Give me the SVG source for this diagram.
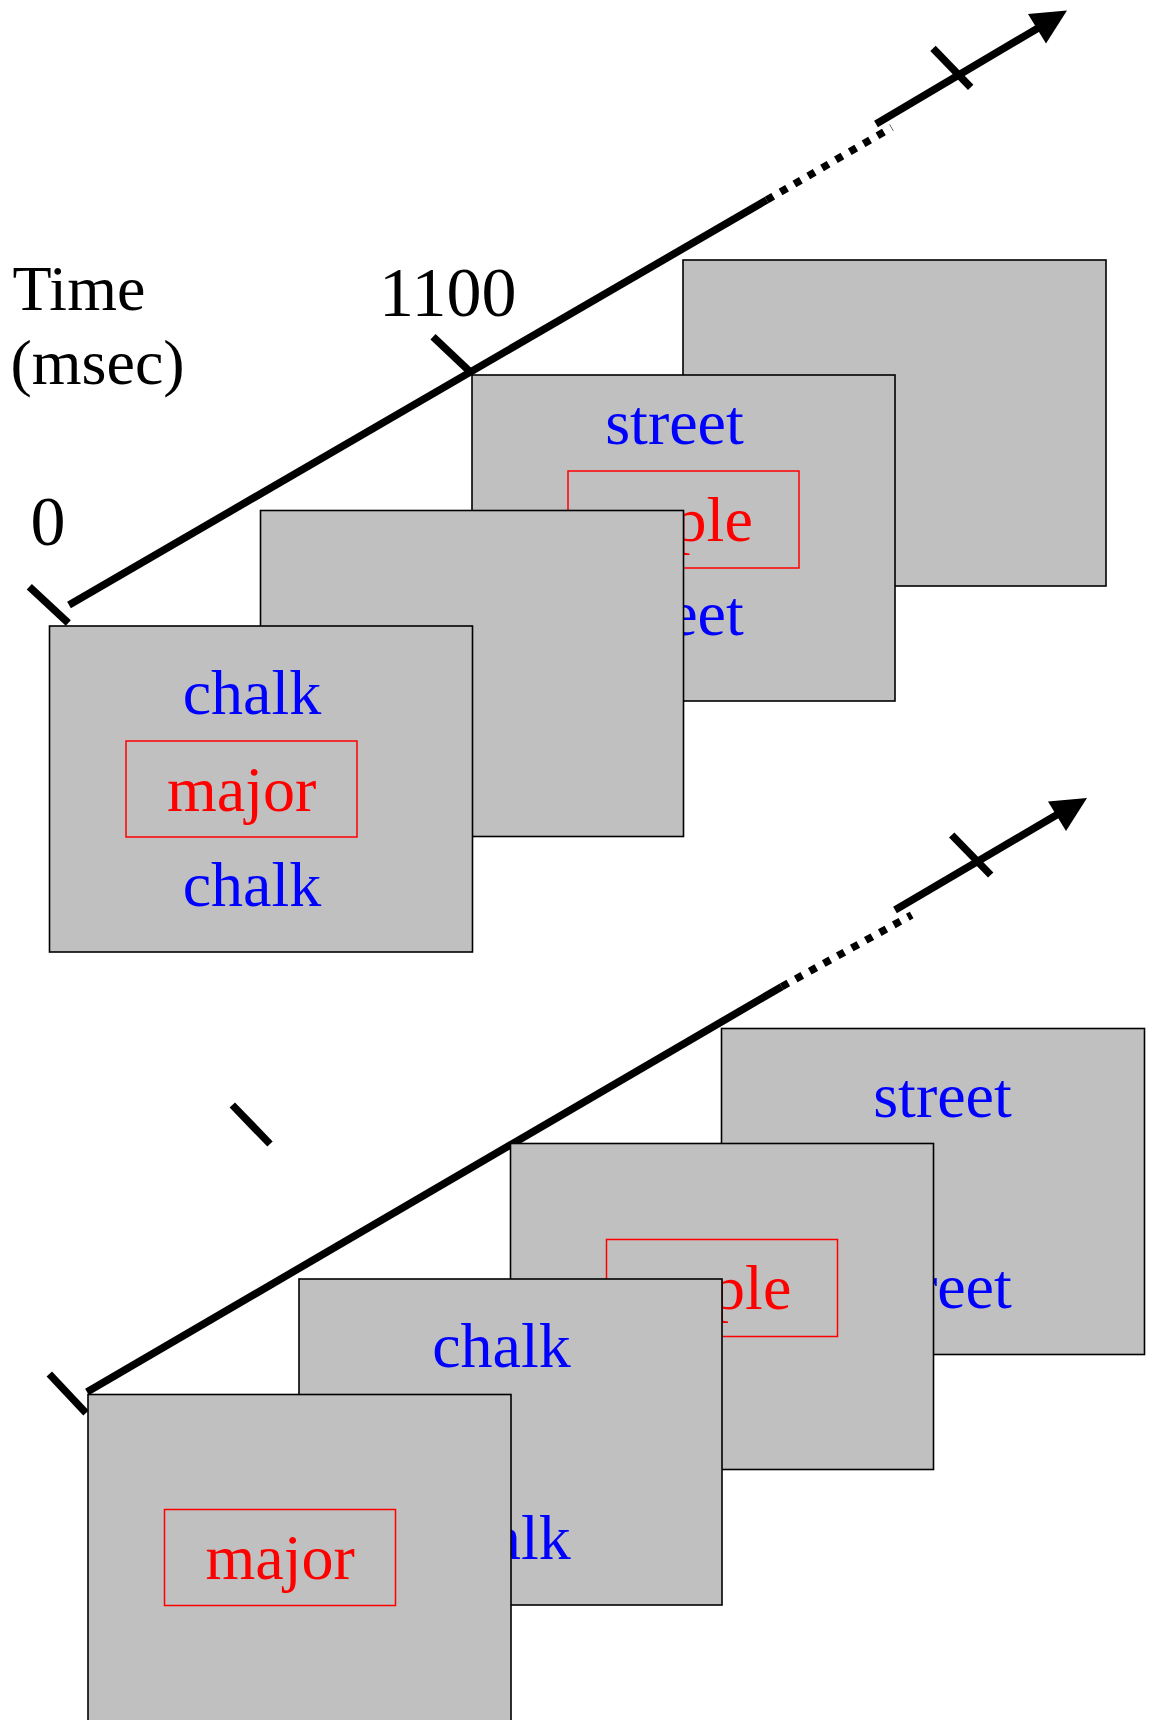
<svg xmlns="http://www.w3.org/2000/svg" width="1156" height="1720" viewBox="0 0 1156 1720">
<style>
.card{fill:#c0c0c0;stroke:#000;stroke-width:1.6}
.hl{fill:none;stroke:#ff0000;stroke-width:1.5}
.w{font-family:"Liberation Serif","Times New Roman",serif;font-size:64px;text-anchor:middle}
.blue{fill:#0000ff}
.red{fill:#ff0000}
.lbl{font-family:"Liberation Serif","Times New Roman",serif;fill:#000}
.ax{stroke:#000;stroke-width:7.5;fill:none;stroke-linecap:butt}
.dot{stroke:#000;stroke-width:7.5;fill:none;stroke-dasharray:7.5 8.5}
.head{fill:#000}
</style>
<rect width="1156" height="1720" fill="#fff"/>
<g id="labels">
<text class="lbl" x="12.5" y="310" font-size="64">Time</text>
<text class="lbl" x="10.5" y="384" font-size="64">(msec)</text>
<text class="lbl" x="30.5" y="545" font-size="70">0</text>
<text class="lbl" x="379" y="316" font-size="70">1100</text>
</g>
<g id="connectors">
<line class="ax" x1="29.3" y1="586.7" x2="68.3" y2="623"/>
<line class="ax" x1="433" y1="336.7" x2="470" y2="371.7"/>
<line class="ax" x1="69" y1="605" x2="766.7" y2="200"/>
<line class="dot" x1="766.7" y1="200" x2="891.7" y2="127.5"/>
<line class="ax" x1="876" y1="124" x2="1045" y2="24"/>
<line class="ax" x1="933" y1="48.3" x2="970.7" y2="87.3"/>
<polygon class="head" points="1067,10.5 1028,14 1046,43.5"/>
<line class="ax" x1="49.3" y1="1374" x2="86" y2="1413"/>
<line class="ax" x1="232.3" y1="1105" x2="270" y2="1144"/>
<line class="ax" x1="87" y1="1392" x2="781.7" y2="986.7"/>
<line class="dot" x1="781.7" y1="986.7" x2="911.7" y2="915"/>
<line class="ax" x1="895" y1="910" x2="1065" y2="810"/>
<line class="ax" x1="951.7" y1="835" x2="990.7" y2="875"/>
<polygon class="head" points="1087,798 1048,801.5 1066,831"/>
</g>
<g id="frameD">
<rect class="card" x="683" y="260" width="423" height="326"/>
</g>
<g id="frameC">
<rect class="card" x="472" y="375" width="423" height="326"/>
<text class="w blue" x="674.5" y="444">street</text>
<rect class="hl" x="568" y="471" width="231" height="97"/>
<text class="w red" x="683.5" y="541">apple</text>
<text class="w blue" x="674.5" y="635">street</text>
</g>
<g id="frameB">
<rect class="card" x="260.5" y="510.5" width="423" height="326"/>
</g>
<g id="frameA">
<rect class="card" x="49.5" y="626" width="423" height="326"/>
<text class="w blue" x="252" y="713.5">chalk</text>
<rect class="hl" x="126" y="741" width="231" height="96"/>
<text class="w red" x="241.7" y="811">major</text>
<text class="w blue" x="252" y="906">chalk</text>
</g>
<g id="frameD2">
<rect class="card" x="721.5" y="1028.5" width="423" height="326"/>
<text class="w blue" x="942.5" y="1117">street</text>
<text class="w blue" x="942.5" y="1308">street</text>
</g>
<g id="frameC2">
<rect class="card" x="510.5" y="1143.5" width="423" height="326"/>
<rect class="hl" x="606.5" y="1239.5" width="231" height="97"/>
<text class="w red" x="722" y="1308.5">apple</text>
</g>
<g id="frameB2">
<rect class="card" x="299" y="1279" width="423" height="326"/>
<text class="w blue" x="501.5" y="1366.5">chalk</text>
<text class="w blue" x="501.5" y="1558.5">chalk</text>
</g>
<g id="frameA2">
<rect class="card" x="88" y="1394.5" width="423" height="340"/>
<rect class="hl" x="164.5" y="1509.5" width="231" height="96"/>
<text class="w red" x="280.2" y="1579">major</text>
</g>
</svg>
